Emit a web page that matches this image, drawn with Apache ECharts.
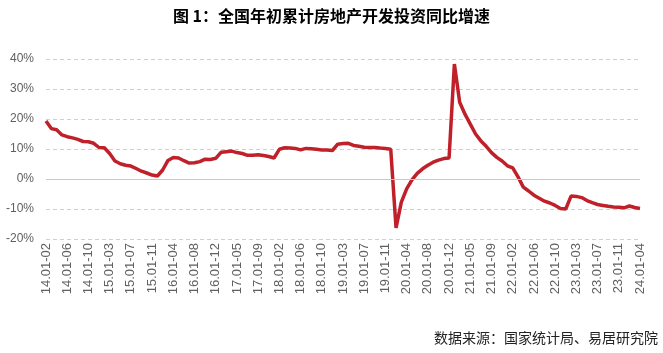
<!DOCTYPE html>
<html><head><meta charset="utf-8">
<script src="https://cdn.jsdelivr.net/npm/echarts@6/dist/echarts.min.js"></script>
<style>html,body{margin:0;padding:0;background:#fff}#c{width:663px;height:353px}</style>
</head><body><div id="c"></div>
<script>
var years = ['14','15','16','17','18','19','20','21','22','23'];
var months = ['02','03','04','05','06','07','08','09','10','11','12'];
var categories = [];
years.forEach(function(y){ months.forEach(function(m){ categories.push(y + '.01-' + m); }); });
categories.push('24.01-02','24.01-03','24.01-04');

var v2014 = [19.3, 16.8, 16.4, 14.7, 14.1, 13.7, 13.2, 12.5, 12.4, 11.9, 10.5];
var v2015 = [10.4, 8.5, 6.0, 5.1, 4.6, 4.3, 3.5, 2.6, 2.0, 1.3, 1.0];
var v2016 = [3.0, 6.2, 7.2, 7.0, 6.1, 5.3, 5.4, 5.8, 6.6, 6.5, 6.9];
var v2017 = [8.9, 9.1, 9.3, 8.8, 8.5, 7.9, 7.9, 8.1, 7.8, 7.5, 7.0];
var v2018 = [9.9, 10.4, 10.3, 10.2, 9.7, 10.2, 10.1, 9.9, 9.7, 9.7, 9.5];
var v2019 = [11.6, 11.8, 11.9, 11.2, 10.9, 10.6, 10.5, 10.5, 10.3, 10.2, 9.9];
var v2020 = [-16.3, -7.7, -3.3, -0.3, 1.9, 3.4, 4.6, 5.6, 6.3, 6.8, 7.0];
var v2021 = [38.3, 25.6, 21.6, 18.3, 15.0, 12.7, 10.9, 8.8, 7.2, 6.0, 4.4];
var v2022 = [3.7, 0.7, -2.7, -4.0, -5.4, -6.4, -7.4, -8.0, -8.8, -9.8, -10.0];
var v2023 = [-5.7, -5.8, -6.2, -7.2, -7.9, -8.5, -8.8, -9.1, -9.3, -9.4, -9.6];
var v2024 = [-9.0, -9.5, -9.8];
var values = [].concat(v2014, v2015, v2016, v2017, v2018, v2019, v2020, v2021, v2022, v2023, v2024);

var titleText = '图 1：全国年初累计房地产开发投资同比增速';
var sourceText = '数据来源：国家统计局、易居研究院';

var chart = echarts.init(document.getElementById('c'));
chart.setOption({
  animation: false,
  title: {
    text: titleText, left: 'center', top: 3,
    textStyle: {fontFamily: 'Noto Sans CJK SC', fontSize: 16, fontWeight: 'bold', color: '#000'}
  },
  graphic: [{
    type: 'text', right: 5, top: 331,
    style: {text: sourceText, fontFamily: 'Noto Sans CJK SC', fontSize: 14, fill: '#222'}
  }],
  grid: {left: 46, right: 23, top: 59, bottom: 114},
  xAxis: {
    type: 'category', data: categories, boundaryGap: false,
    axisLine: {show: false}, axisTick: {show: false},
    axisLabel: {rotate: 90, interval: 3, margin: 4, fontSize: 13, color: '#606060', fontFamily: 'Liberation Sans'},
    splitLine: {show: false}
  },
  yAxis: {
    type: 'value', min: -20, max: 40, interval: 10,
    axisLine: {show: false}, axisTick: {show: false},
    axisLabel: {formatter: '{value}%', fontSize: 12, color: '#606060', fontFamily: 'Liberation Sans', margin: 12},
    splitLine: {lineStyle: {type: [4, 3], color: '#d0d0d0', width: 1}}
  },
  series: [{
    type: 'line', data: values, symbol: 'none',
    lineStyle: {color: '#C0202A', width: 3.5},
    markLine: {
      silent: true, symbol: 'none', label: {show: false},
      lineStyle: {type: 'solid', color: '#c8c8c8', width: 1},
      data: [{yAxis: 0}]
    },
    z: 3
  }]
});
</script></body></html>
